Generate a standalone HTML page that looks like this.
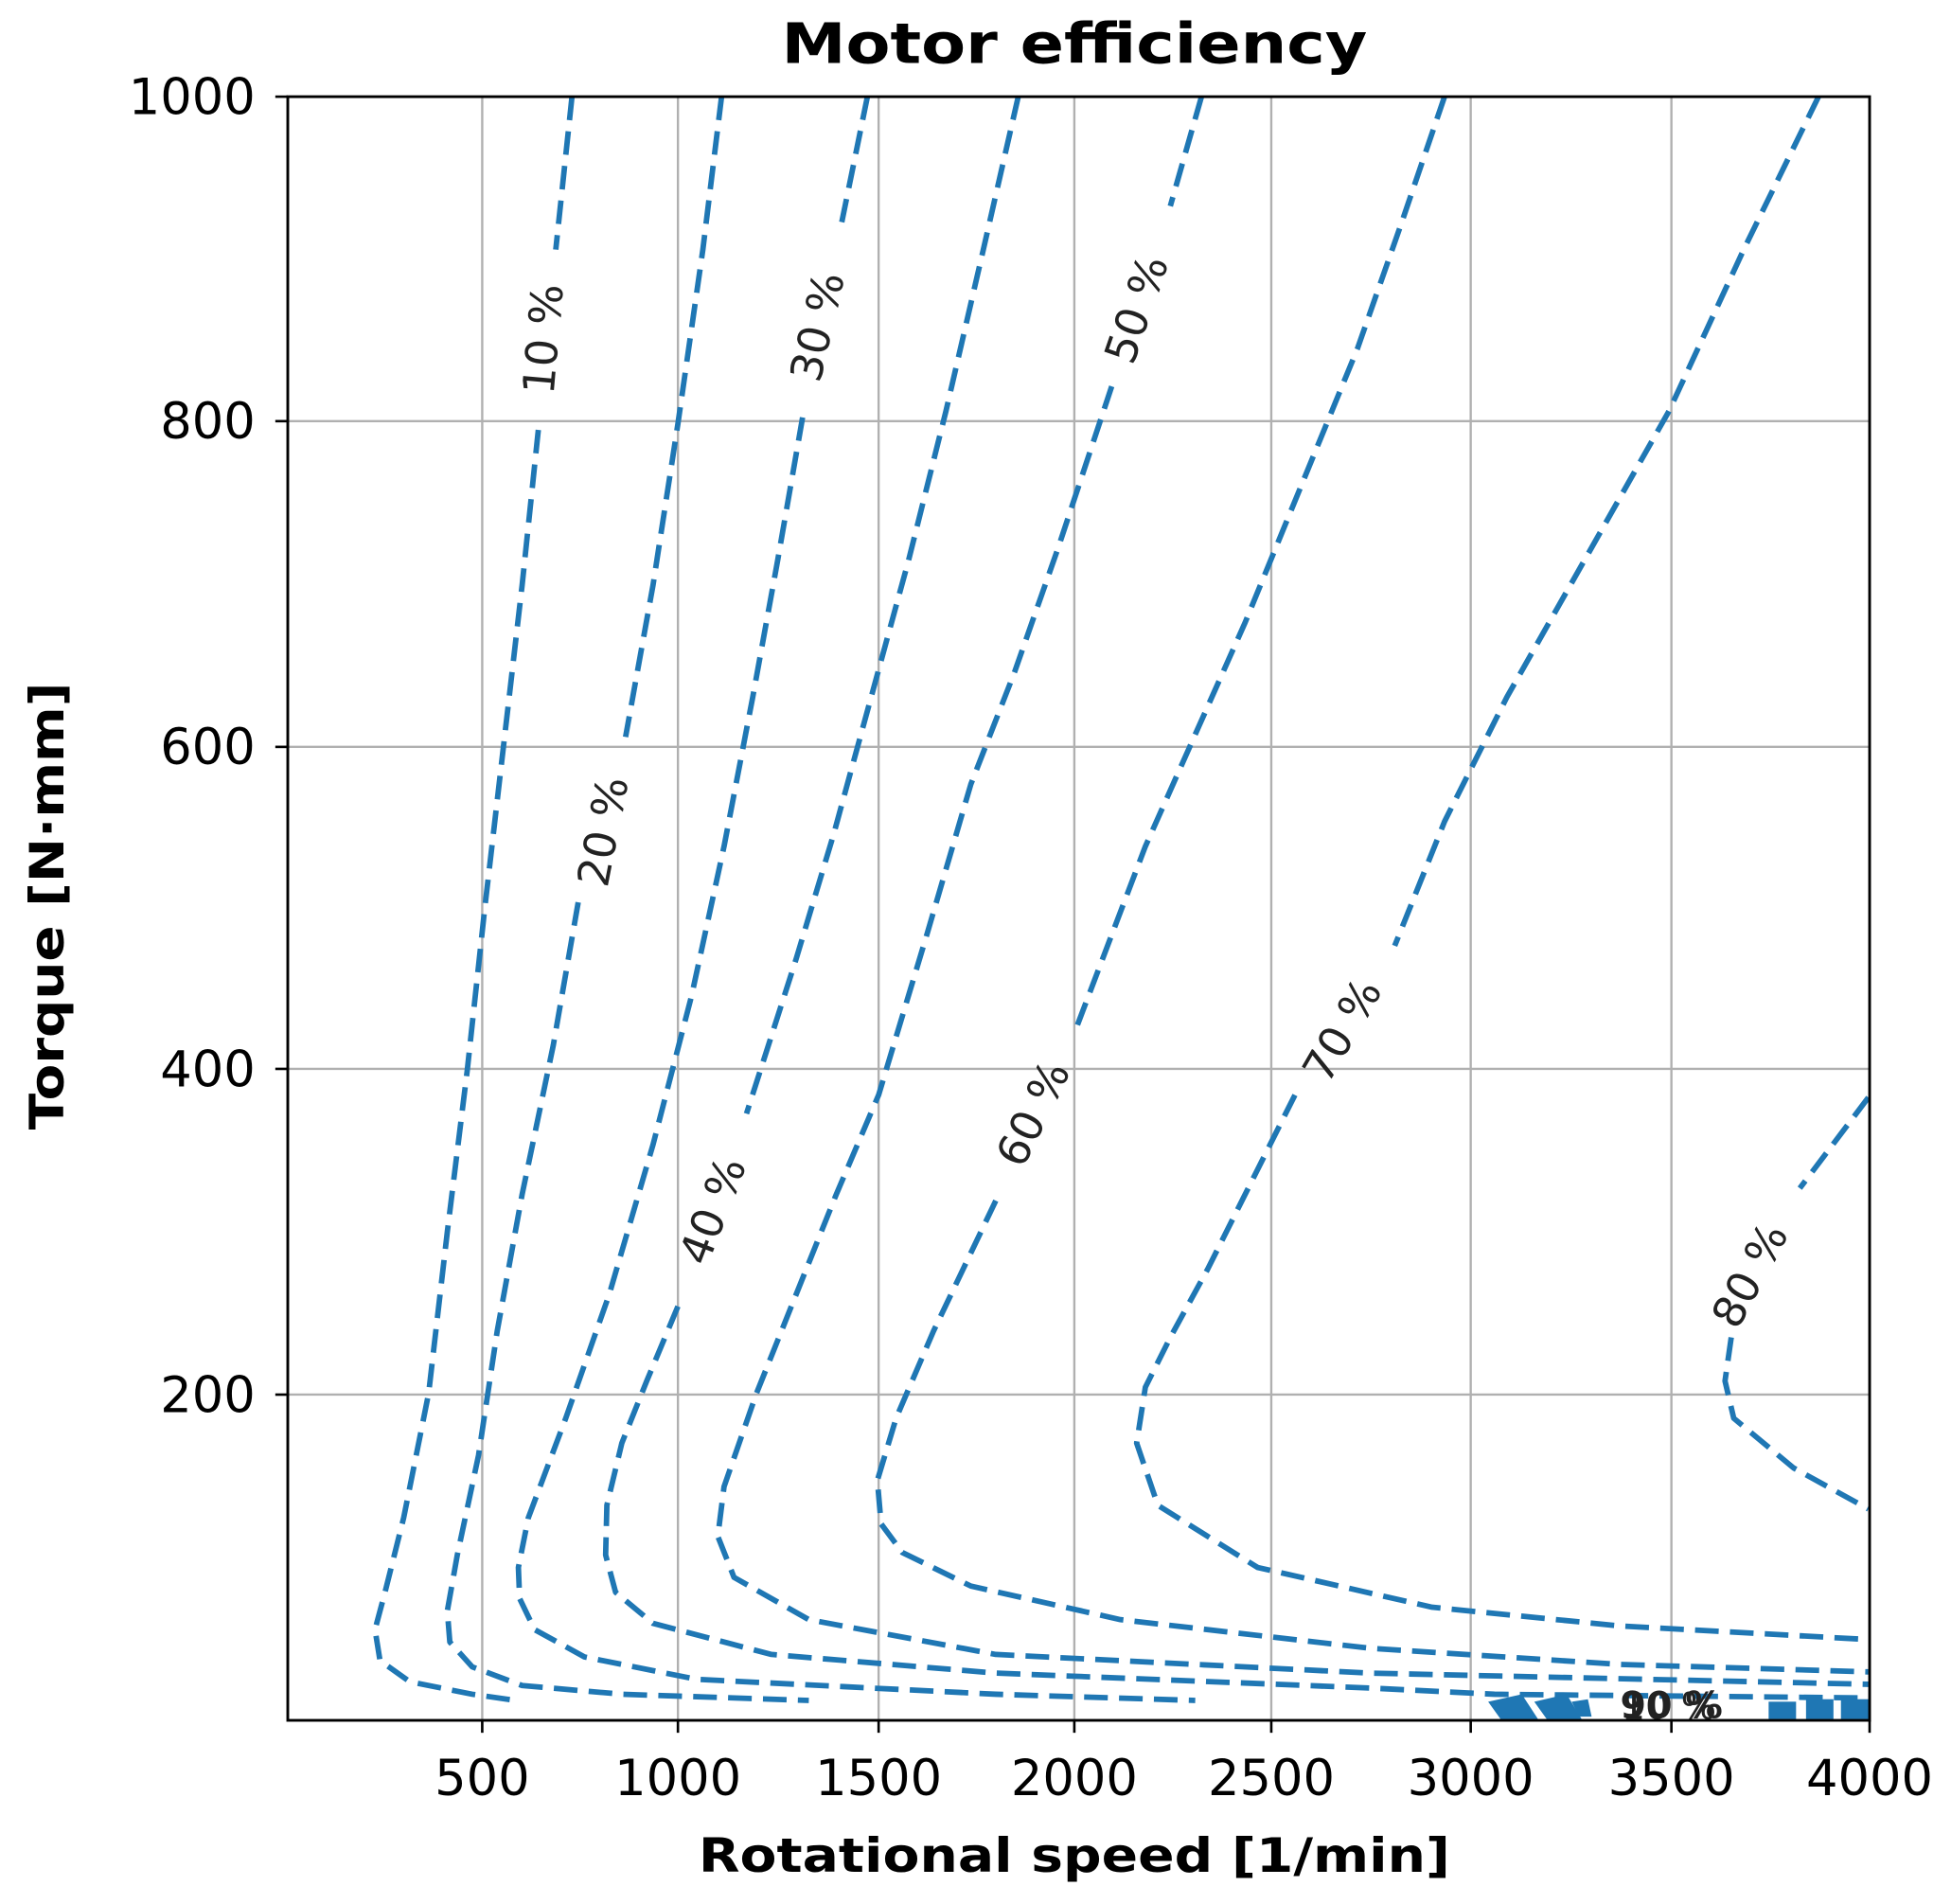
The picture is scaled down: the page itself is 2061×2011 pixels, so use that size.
<!DOCTYPE html>
<html><head><meta charset="utf-8"><style>
html,body{margin:0;padding:0;background:#fff;}
svg{display:block;}
text{font-family:"DejaVu Sans","Liberation Sans",sans-serif;}
</style></head><body>
<svg width="2061" height="2011" viewBox="0 0 2061 2011" xmlns="http://www.w3.org/2000/svg">
<rect width="2061" height="2011" fill="#fff"/>
<g transform="translate(-1.5,1) scale(1.3168 1.3131)">
<!-- grid -->
<g stroke="#b0b0b0" stroke-width="1.8">
<line x1="388" y1="77" x2="388" y2="1383"/><line x1="545" y1="77" x2="545" y2="1383"/>
<line x1="706" y1="77" x2="706" y2="1383"/><line x1="863" y1="77" x2="863" y2="1383"/>
<line x1="1021" y1="77" x2="1021" y2="1383"/><line x1="1181" y1="77" x2="1181" y2="1383"/>
<line x1="1342" y1="77" x2="1342" y2="1383"/>
<line x1="232" y1="338" x2="1501" y2="338"/><line x1="232" y1="600" x2="1501" y2="600"/>
<line x1="232" y1="859" x2="1501" y2="859"/><line x1="232" y1="1121" x2="1501" y2="1121"/>
</g>
<!-- contours -->
<g fill="none" stroke="#1f77b4" stroke-width="4.4" stroke-dasharray="19 9" stroke-linejoin="round">
<polyline points="460,77 447,200"/>
<polyline points="433,345 420,470 405,600 390,730 376,860 360,990 345,1120 325,1220 310,1280 302,1310 306,1335 330,1352 380,1362 415,1367"/>
<polyline points="580,77 565,200 545,340 525,470 503,592"/>
<polyline points="465,725 445,840 420,960 400,1070 385,1170 368,1250 360,1295 362,1320 380,1340 420,1355 500,1362 650,1367"/>
<polyline points="697,77 675,185"/>
<polyline points="645,335 625,450 605,560 582,680 556,800 525,920 490,1040 455,1140 425,1220 417,1260 418,1285 430,1310 470,1332 560,1350 800,1362 960,1367"/>
<polyline points="818,77 790,200 760,330 730,450 700,560 670,670 640,770 600,895"/>
<polyline points="545,1050 520,1110 500,1160 488,1210 487,1250 495,1280 525,1305 620,1330 800,1345 1100,1357 1200,1362 1500,1365"/>
<polyline points="965,77 940,165"/>
<polyline points="893,310 850,440 815,540 780,630 745,750 706,880 672,960 640,1040 608,1120 582,1195 577,1235 590,1268 650,1302 800,1330 1100,1345 1500,1354"/>
<polyline points="1160,77 1125,180 1090,280 1045,390 1000,500 960,590 920,680 865,825"/>
<polyline points="800,965 750,1070 720,1140 705,1190 708,1225 725,1248 780,1275 900,1302 1100,1325 1300,1338 1500,1344"/>
<polyline points="1460,77 1400,200 1340,330 1275,445 1210,560 1160,660 1120,760"/>
<polyline points="1040,880 1005,950 970,1020 940,1075 920,1115 913,1160 930,1210 1010,1260 1150,1292 1300,1307 1500,1318"/>
<polyline points="1500,882 1445,955"/>
<polyline points="1390,1075 1385,1110 1392,1140 1440,1180 1500,1213"/>
</g>
<!-- bottom blobs -->
<g fill="#1f77b4">
<polygon points="1195,1368 1222,1362 1235,1382 1205,1382"/>
<polygon points="1232,1368 1258,1362 1270,1382 1242,1382"/>
<polygon points="1262,1368 1275,1366 1278,1380 1268,1380"/>
<rect x="1420" y="1368" width="22" height="14"/>
<rect x="1450" y="1366" width="22" height="16"/>
<rect x="1478" y="1366" width="23" height="16"/>
</g>
<!-- contour labels -->
<g font-size="35" fill="#222" text-anchor="middle">
<text transform="translate(437,272) rotate(-85)" dy="12">10 %</text>
<text transform="translate(485,668) rotate(-79)" dy="12">20 %</text>
<text transform="translate(657,262) rotate(-77)" dy="12">30 %</text>
<text transform="translate(573,973) rotate(-69)" dy="12">40 %</text>
<text transform="translate(913,248) rotate(-71)" dy="12">50 %</text>
<text transform="translate(830,895) rotate(-64)" dy="12">60 %</text>
<text transform="translate(1078,828) rotate(-60)" dy="12">70 %</text>
<text transform="translate(1405,1025) rotate(-62)" dy="12">80 %</text>
<text x="1342" y="1381" font-size="30" font-weight="bold">90 %</text>
<text x="1340" y="1382" font-size="30">10 %</text>
</g>
<!-- axes -->
<rect x="232" y="77" width="1269" height="1306" fill="none" stroke="#000" stroke-width="2.2"/>
<g stroke="#000" stroke-width="2">
<line x1="222" y1="77" x2="232" y2="77"/><line x1="222" y1="338" x2="232" y2="338"/>
<line x1="222" y1="600" x2="232" y2="600"/><line x1="222" y1="859" x2="232" y2="859"/>
<line x1="222" y1="1121" x2="232" y2="1121"/>
<line x1="388" y1="1383" x2="388" y2="1393"/><line x1="545" y1="1383" x2="545" y2="1393"/>
<line x1="706" y1="1383" x2="706" y2="1393"/><line x1="863" y1="1383" x2="863" y2="1393"/>
<line x1="1021" y1="1383" x2="1021" y2="1393"/><line x1="1181" y1="1383" x2="1181" y2="1393"/>
<line x1="1342" y1="1383" x2="1342" y2="1393"/><line x1="1501" y1="1383" x2="1501" y2="1393"/>
</g>
<g font-size="40" fill="#000" text-anchor="end">
<text x="206" y="91">1000</text><text x="206" y="352">800</text><text x="206" y="614">600</text>
<text x="206" y="873">400</text><text x="206" y="1135">200</text>
</g>
<g font-size="40" fill="#000" text-anchor="middle">
<text x="388" y="1443">500</text><text x="545" y="1443">1000</text><text x="706" y="1443">1500</text>
<text x="863" y="1443">2000</text><text x="1021" y="1443">2500</text><text x="1181" y="1443">3000</text>
<text x="1342" y="1443">3500</text><text x="1501" y="1443">4000</text>
</g>
<text x="863" y="1505" font-size="38" font-weight="bold" text-anchor="middle" textLength="603" lengthAdjust="spacingAndGlyphs">Rotational speed [1/min]</text>
<text transform="translate(52,728) rotate(-90)" font-size="38" font-weight="bold" text-anchor="middle" textLength="360" lengthAdjust="spacingAndGlyphs">Torque [N·mm]</text>
<text x="863" y="50" font-size="45" font-weight="bold" text-anchor="middle" textLength="470" lengthAdjust="spacingAndGlyphs">Motor efficiency</text>
</g>
</svg>
</body></html>
